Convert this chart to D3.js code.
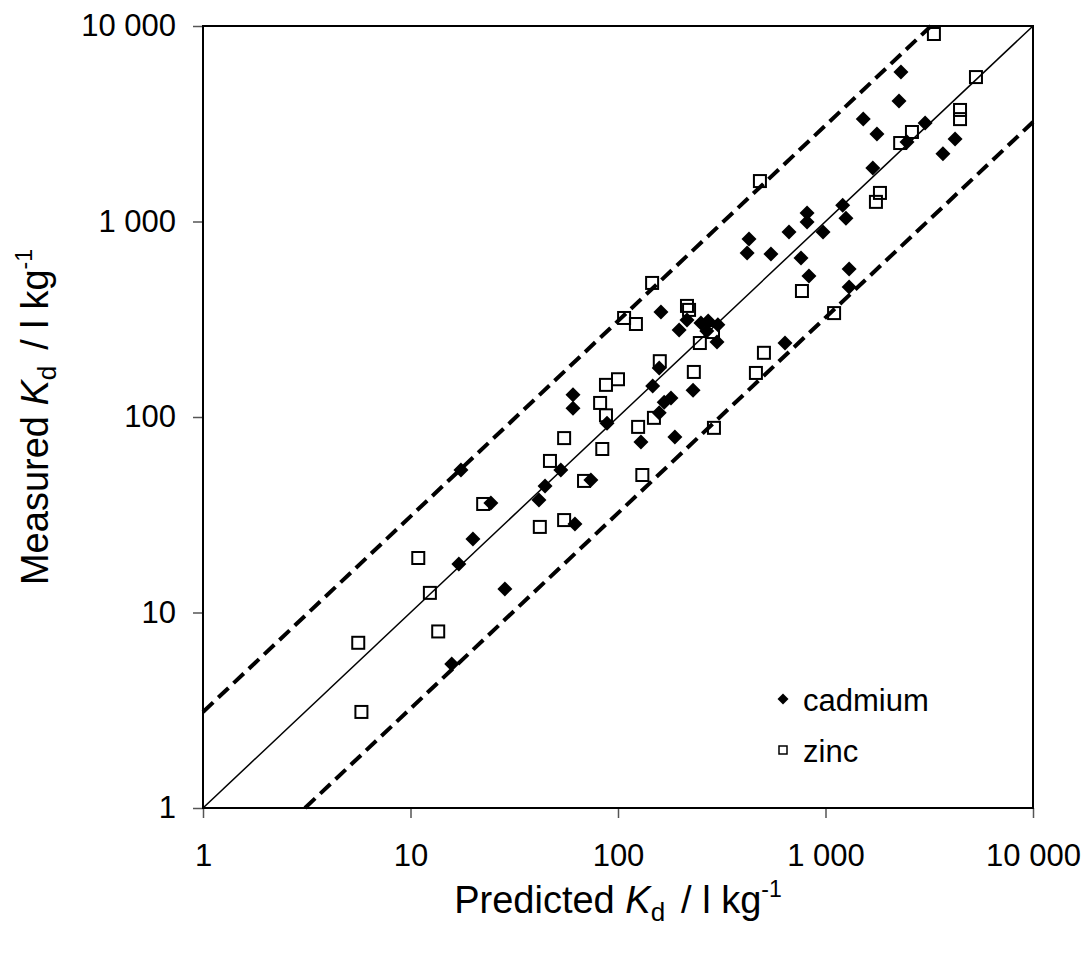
<!DOCTYPE html>
<html>
<head>
<meta charset="utf-8">
<script src="https://cdn.jsdelivr.net/npm/d3@7"></script>
<style>
  body { margin: 0; background: #fff; }
  svg { font-family: "Liberation Sans", Arial, sans-serif; }
  .tick text { fill: #000; }
</style>
</head>
<body>
<div class="kd-chart"></div>
<script>
// data (predicted vs measured Kd, l/kg)
const cadmiumPredicted = [2310, 2260, 1520, 1770, 3020, 2470, 4210, 3680, 1690, 1210,
	815, 815, 1255, 667, 973, 546, 762, 832, 1300, 1300,
	428, 419, 161, 215, 197, 251, 272, 268, 303, 300,
	638, 158, 147, 230, 60.7, 60.7, 180, 167, 158, 88.5,
	129, 188, 53, 74, 44.5, 41.6, 24.4, 62, 28.5, 17.5,
	20, 17.1, 15.8];
const cadmiumMeasured = [5820, 4130, 3340, 2800, 3190, 2550, 2640, 2220, 1880, 1210,
	1105, 995, 1040, 884, 884, 682, 651, 526, 571, 462,
	813, 690, 344, 313, 279, 303, 310, 275, 296, 242,
	239, 178, 144, 137, 130, 111, 125, 119, 105, 93,
	74.5, 79, 53.6, 47.6, 44.4, 37.6, 36.3, 28.4, 13.2, 53.6,
	23.8, 17.7, 5.45];

const zincPredicted = [3330, 5310, 4450, 4450, 2610, 2290, 1830, 1750, 770, 1100,
	483, 146, 215, 220, 107, 122, 287, 248, 505, 462,
	159, 100, 87.5, 232, 82, 87.5, 149, 125, 290, 55,
	84, 47, 68.6, 131, 22.4, 42, 55, 10.9, 12.4, 13.6,
	5.6, 5.8];
const zincMeasured = [9100, 5480, 3720, 3340, 2870, 2520, 1400, 1260, 441, 340,
	1610, 485, 370, 353, 321, 299, 272, 239, 213, 168,
	193, 156, 146, 170, 118, 102, 99, 89, 88, 78,
	68.6, 59.6, 47.1, 50.5, 35.9, 27.4, 29.7, 19, 12.6, 8.0,
	7.0, 3.1];

const tickValues = [1, 10, 100, 1000, 10000];
const axisDomain = [1, 10000];
const bandFactor = 3.1;   // dashed lines: measured = predicted * / factor

const seriesNames = ["cadmium", "zinc"];

// layout
const svg = d3.select(".kd-chart")
	.append("svg")
	.attr("width", 1089)
	.attr("height", 958);

const plot = { left: 203, top: 26, right: 1033, bottom: 808 };

const x = d3.scaleLog().domain(axisDomain).range([plot.left, plot.right]);
const y = d3.scaleLog().domain(axisDomain).range([plot.bottom, plot.top]);

const fmt = d3.formatLocale({ decimal: ".", thousands: " ", grouping: [3], currency: ["", ""] }).format(",");

// axes
const xAxis = svg.append("g")
	.attr("transform", `translate(0, ${plot.bottom})`)
	.call(d3.axisBottom(x).tickValues(tickValues).tickFormat(fmt).tickSize(10).tickPadding(26));

const yAxis = svg.append("g")
	.attr("transform", `translate(${plot.left}, 0)`)
	.call(d3.axisLeft(y).tickValues(tickValues).tickFormat(fmt).tickSize(10).tickPadding(17));

[xAxis, yAxis].forEach((a) => {
	a.select(".domain").remove();
	a.selectAll(".tick line").attr("stroke", "#555").attr("stroke-width", 1.5);
	a.selectAll(".tick text").style("font-size", "31px");
});

// plot frame
svg.append("rect")
	.attr("x", plot.left)
	.attr("y", plot.top)
	.attr("width", plot.right - plot.left)
	.attr("height", plot.bottom - plot.top)
	.attr("fill", "none")
	.attr("stroke", "#000")
	.attr("stroke-width", 2);

const chart = svg.append("g");

// zinc: open squares
const zinc = zincPredicted.map((p, i) => ({ p, m: zincMeasured[i] }));
chart.selectAll(".zinc")
	.data(zinc).enter()
	.append("rect")
	.attr("class", "zinc")
	.attr("x", (d) => x(d.p) - 6)
	.attr("y", (d) => y(d.m) - 6)
	.attr("width", 12)
	.attr("height", 12)
	.attr("fill", "none")
	.attr("stroke", "#000")
	.attr("stroke-width", 2);

// cadmium: filled diamonds
const cadmium = cadmiumPredicted.map((p, i) => ({ p, m: cadmiumMeasured[i] }));
const diamond = "M0,-7.5L7.5,0L0,7.5L-7.5,0Z";
chart.selectAll(".cadmium")
	.data(cadmium).enter()
	.append("path")
	.attr("class", "cadmium")
	.attr("d", diamond)
	.attr("transform", (d) => `translate(${x(d.p)}, ${y(d.m)})`)
	.attr("fill", "#000");

// 1:1 line and the +/- band
const line = d3.line().x((d) => x(d[0])).y((d) => y(d[1]));
const lo = axisDomain[0], hi = axisDomain[1];

chart.append("path")
	.attr("d", line([[lo, lo], [hi, hi]]))
	.attr("fill", "none")
	.attr("stroke", "#000")
	.attr("stroke-width", 1.5);

chart.append("path")
	.attr("d", line([[lo, lo * bandFactor], [hi / bandFactor, hi]]))
	.attr("fill", "none")
	.attr("stroke", "#000")
	.attr("stroke-width", 4)
	.attr("stroke-dasharray", "14 7");

chart.append("path")
	.attr("d", line([[lo * bandFactor, lo], [hi, hi / bandFactor]]))
	.attr("fill", "none")
	.attr("stroke", "#000")
	.attr("stroke-width", 4)
	.attr("stroke-dasharray", "14 7");

// legend
const legend = svg.append("g").attr("transform", "translate(783, 699)");
const items = legend.selectAll("g")
	.data(seriesNames).enter()
	.append("g")
	.attr("transform", (d, i) => `translate(0, ${i * 51})`);

items.filter((d) => d === "cadmium")
	.append("path")
	.attr("d", "M0,-5.5L5.5,0L0,5.5L-5.5,0Z")
	.attr("fill", "#000");

items.filter((d) => d === "zinc")
	.append("rect")
	.attr("x", -4).attr("y", -4)
	.attr("width", 8).attr("height", 8)
	.attr("fill", "none")
	.attr("stroke", "#000")
	.attr("stroke-width", 1.5);

items.append("text")
	.text((d) => d)
	.attr("x", 20)
	.attr("y", 12)
	.style("font-size", "31px");

// axis titles
const xTitle = svg.append("text")
	.attr("x", (plot.left + plot.right) / 2)
	.attr("y", 913)
	.attr("text-anchor", "middle")
	.style("font-size", "38px");
xTitle.append("tspan").text("Predicted ");
xTitle.append("tspan").text("K").style("font-style", "italic");
xTitle.append("tspan").text("d").attr("dy", 8).style("font-size", "26px");
xTitle.append("tspan").text("/ l kg").attr("dy", -8).attr("dx", 16);
xTitle.append("tspan").text("-1").attr("dy", -16).style("font-size", "23px");

const yTitle = svg.append("text")
	.attr("transform", `translate(48, ${(plot.top + plot.bottom) / 2}) rotate(-90)`)
	.attr("text-anchor", "middle")
	.style("font-size", "38px");
yTitle.append("tspan").text("Measured ");
yTitle.append("tspan").text("K").style("font-style", "italic");
yTitle.append("tspan").text("d").attr("dy", 8).style("font-size", "26px");
yTitle.append("tspan").text("/ l kg").attr("dy", -8).attr("dx", 16);
yTitle.append("tspan").text("-1").attr("dy", -16).style("font-size", "23px");
</script>
</body>
</html>
